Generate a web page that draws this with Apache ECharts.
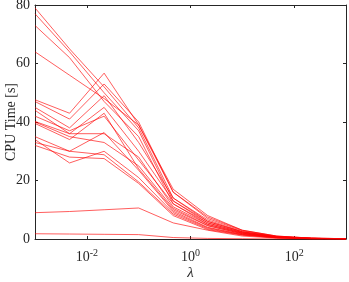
<!DOCTYPE html>
<html><head><meta charset="utf-8">
<script src="https://cdn.jsdelivr.net/npm/echarts@6/dist/echarts.min.js"></script>
<style>html,body{margin:0;padding:0;background:#fff}#c{width:349px;height:282px}</style>
</head><body><div id="c"></div>
<script>
const lambdas = [0.001, 0.004642, 0.021544, 0.1, 0.464159, 2.154435, 10, 46.41589, 215.4435, 1000];
const yTicks = [0, 20, 40, 60, 80];
const xTickValues = [0.01, 1, 100];
const runA = [79, 65, 52, 38, 14, 6, 2.5, 0.8, 0.2, 0.1];
const runB = [77, 64, 50, 37, 13, 5.5, 2.2, 0.7, 0.2, 0.1];
const runC = [73, 62, 47, 35, 12, 5, 2, 0.6, 0.2, 0.1];
const runD = [64, 56, 48, 39, 16, 7, 2.8, 0.9, 0.3, 0.1];
const runE = [47.6, 43, 56.7, 39, 17, 8, 3, 1, 0.3, 0.1];
const runF = [47, 41, 53, 40, 16, 7.5, 3, 1, 0.3, 0.1];
const runG = [45, 38, 49, 33, 14, 6.5, 2.5, 0.8, 0.2, 0.1];
const runH = [44, 36, 45, 30, 13, 6, 2.4, 0.8, 0.2, 0.1];
const runI = [42, 37, 42, 27, 12, 5.5, 2.2, 0.7, 0.2, 0.1];
const runJ = [40.2, 36, 36, 28, 11, 5, 2, 0.6, 0.2, 0.1];
const runK = [40, 35, 33, 25, 10.5, 4.6, 1.8, 0.6, 0.2, 0.1];
const runL = [39.5, 34, 43, 24, 10, 4.5, 1.8, 0.5, 0.2, 0.1];
const runM = [35, 30, 36.4, 23.5, 9.5, 4, 1.6, 0.5, 0.1, 0.1];
const runN = [34, 26, 30, 21, 9, 3.8, 1.5, 0.5, 0.1, 0.1];
const runO = [33, 30, 28.8, 19.5, 8.5, 3.5, 1.4, 0.4, 0.1, 0.1];
const runP = [32, 28, 27.5, 19, 8, 3.2, 1.3, 0.4, 0.1, 0.1];
const runQ = [9, 9.4, 10, 10.6, 5.5, 3, 1, 0.3, 0.1, 0.02];
const runR = [1.8, 1.7, 1.6, 1.5, 0.5, 0.2, 0.1, 0.02, 0.01, 0.01];
const runs = [runA, runB, runC, runD, runE, runF, runG, runH, runI, runJ, runK, runL, runM, runN, runO, runP, runQ, runR];

const font = '"Liberation Serif", serif';
const axisCol = '#262626';
function fmt(v) {
  const e = Math.round(Math.log10(v));
  return '{b|10}{s|' + String(e) + '}';
}
const baseX = {
  type: 'log', logBase: 10, min: 0.001, max: 1000,
  axisLine: {show: true, onZero: false, lineStyle: {color: axisCol, width: 1}},
  axisTick: {show: true, inside: true, length: 3, customValues: xTickValues, lineStyle: {color: axisCol}},
  minorTick: {show: false},
  splitLine: {show: false}
};
const baseY = {
  type: 'value', min: 0, max: 80, interval: 20,
  axisLine: {show: true, onZero: false, lineStyle: {color: axisCol, width: 1}},
  axisTick: {show: true, inside: true, length: 3, lineStyle: {color: axisCol}},
  splitLine: {show: false}
};
const option = {
  animation: false,
  grid: {left: 35, right: 3, top: 5, bottom: 43, containLabel: false, outerBoundsMode: 'none'},
  xAxis: [
    Object.assign({}, baseX, {
      position: 'bottom',
      name: 'λ', nameLocation: 'middle', nameGap: 27, nameMoveOverlap: false,
      nameTextStyle: {fontFamily: font, fontStyle: 'italic', fontSize: 15, color: '#262626'},
      axisLabel: {show: true, customValues: xTickValues, margin: 9, formatter: fmt,
        rich: {b: {fontFamily: font, fontSize: 14, color: '#262626'},
               s: {fontFamily: font, fontSize: 10, color: '#262626', verticalAlign: 'bottom', padding: [0, 0, 8, 0]}}}
    }),
    Object.assign({}, baseX, {position: 'top', axisLabel: {show: false}})
  ],
  yAxis: [
    Object.assign({}, baseY, {
      position: 'left',
      name: 'CPU Time [s]', nameLocation: 'middle', nameGap: 17, nameMoveOverlap: false,
      nameTextStyle: {fontFamily: font, fontSize: 14, color: '#262626'},
      axisLabel: {show: true, margin: 5, fontFamily: font, fontSize: 14, color: '#262626'}
    }),
    Object.assign({}, baseY, {position: 'right', axisLabel: {show: false}})
  ],
  series: runs.map(r => ({
    type: 'line', xAxisIndex: 0, yAxisIndex: 0, showSymbol: false, symbol: 'none',
    data: lambdas.map((x, i) => [x, r[i]]),
    lineStyle: {color: 'rgba(255,0,0,0.8)', width: 0.8},
    silent: true
  }))
};
echarts.init(document.getElementById('c'), null, {renderer: 'canvas'}).setOption(option);
</script>
</body></html>
